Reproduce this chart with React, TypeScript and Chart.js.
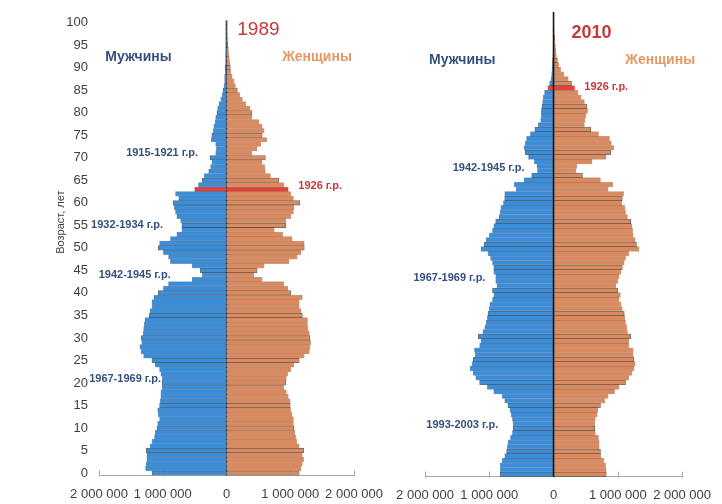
import React, { useEffect, useRef } from "react";
import { Chart, registerables } from "chart.js";

Chart.register(...registerables);

// ---------- data ----------
const AGES: string[] = [
  "0","1","2","3","4","5","6","7","8","9","10","11","12","13","14","15","16","17","18","19",
  "20","21","22","23","24","25","26","27","28","29","30","31","32","33","34","35","36","37","38","39",
  "40","41","42","43","44","45","46","47","48","49","50","51","52","53","54","55","56","57","58","59",
  "60","61","62","63","64","65","66","67","68","69","70","71","72","73","74","75","76","77","78","79",
  "80","81","82","83","84","85","86","87","88","89","90","91","92","93","94","95","96","97","98","99","100",
];

const X_TICKS = [-2000000, -1000000, 0, 1000000, 2000000];
const X_TICK_LABELS = ["2 000 000", "1 000 000", "0", "1 000 000", "2 000 000"];

// thousands of people, ages 0..100
const MEN_1989 = [
  1170,1270,1260,1250,1250,1260,1200,1170,1130,1120,
  1090,1080,1050,1070,1080,1050,1040,1030,1030,1010,
  1010,1010,1030,1050,1120,1170,1300,1340,1360,1330,
  1340,1310,1300,1290,1280,1210,1200,1170,1170,1140,
  1070,990,910,540,380,410,540,880,910,990,
  1070,1050,880,780,700,700,720,780,800,820,
  840,750,800,500,440,380,350,280,250,230,
  260,170,160,170,240,230,210,200,180,170,
  150,140,120,90,70,50,40,30,30,20,
  20,10,10,10,5,3,2,1,1,0.5,0.3,
];
const WOMEN_1989 = [
  1140,1170,1190,1210,1190,1210,1140,1100,1090,1070,
  1060,1050,1050,1030,1010,1000,1000,970,940,900,
  930,940,960,1010,1060,1140,1220,1300,1310,1320,
  1310,1300,1280,1270,1270,1190,1170,1140,1140,1190,
  1010,960,900,560,430,480,590,980,1110,1170,
  1220,1220,1030,880,750,930,930,1010,1050,1060,
  1150,1050,1010,970,900,820,690,610,600,560,
  610,400,480,540,630,560,590,560,510,400,
  400,370,300,250,210,170,140,120,90,70,
  60,50,45,35,30,20,15,10,7,4,3,
];
const MEN_2010 = [
  830,830,830,800,760,730,720,710,670,640,
  630,630,640,660,680,710,760,800,930,1030,
  1150,1210,1250,1300,1270,1250,1220,1230,1150,1130,
  1170,1100,1070,1050,1030,1020,1000,990,950,930,
  950,880,900,900,930,930,950,980,1020,1130,
  1080,1050,1000,950,930,900,850,830,820,780,
  760,760,580,610,460,340,250,260,300,390,
  440,460,440,420,360,290,240,200,190,190,
  180,170,160,140,90,60,40,30,25,20,
  15,10,8,6,5,4,3,2,1,1,0.5,
];
const WOMEN_2010 = [
  820,820,810,780,740,730,710,710,700,650,
  640,640,650,680,690,730,800,850,950,1020,
  1120,1170,1220,1250,1270,1250,1240,1240,1170,1170,
  1200,1150,1140,1120,1110,1100,1070,1050,1020,1040,
  1000,970,1000,1020,1050,1070,1100,1120,1170,1330,
  1290,1270,1240,1230,1220,1200,1150,1120,1110,1060,
  1070,1090,850,920,730,450,350,360,600,820,
  890,940,900,870,700,580,480,490,500,530,
  520,480,430,380,330,280,230,160,110,80,
  60,45,35,30,20,15,10,7,5,3,2,
];

const HIGHLIGHT_1989 = 63; // born 1926
const HIGHLIGHT_2010 = 84; // born 1926

// ---------- styling ----------
const BLUE = "#3a8dd8";
const ORANGE = "#da8a5e";
const RED = "#e2423a";
const LABEL_BLUE = "#34507f";
const LABEL_ORANGE = "#e39865";
const LABEL_RED = "#c8383a";
const AXIS_TEXT = "#404040";
const FONT = "'Liberation Sans', Arial, sans-serif";

type Note = { text: string; value: number; age: number; color: string; font: string; rotate?: boolean };

const NOTES_1989: Note[] = [
  { text: "1989", value: 500000, age: 98.4, color: "#c23a3c", font: `19px ${FONT}` },
  { text: "Мужчины", value: -1380000, age: 92.4, color: LABEL_BLUE, font: `bold 14px ${FONT}` },
  { text: "Женщины", value: 1420000, age: 92.4, color: LABEL_ORANGE, font: `bold 14px ${FONT}` },
  { text: "1915-1921 г.р.", value: -1010000, age: 71.1, color: LABEL_BLUE, font: `bold 11px ${FONT}` },
  { text: "1926 г.р.", value: 1470000, age: 63.7, color: LABEL_RED, font: `bold 11px ${FONT}` },
  { text: "1932-1934 г.р.", value: -1560000, age: 55.1, color: LABEL_BLUE, font: `bold 11px ${FONT}` },
  { text: "1942-1945 г.р.", value: -1440000, age: 44.0, color: LABEL_BLUE, font: `bold 11px ${FONT}` },
  { text: "1967-1969 г.р.", value: -1590000, age: 20.9, color: LABEL_BLUE, font: `bold 11px ${FONT}` },
  { text: "Возраст, лет", value: -2590000, age: 55.7, color: AXIS_TEXT, font: `11px ${FONT}`, rotate: true },
];
const NOTES_2010: Note[] = [
  { text: "2010", value: 590000, age: 96.0, color: "#c23a3c", font: `bold 18px ${FONT}` },
  { text: "Мужчины", value: -1420000, age: 90.1, color: LABEL_BLUE, font: `bold 14px ${FONT}` },
  { text: "Женщины", value: 1660000, age: 90.1, color: LABEL_ORANGE, font: `bold 14px ${FONT}` },
  { text: "1926 г.р.", value: 820000, age: 84.2, color: LABEL_RED, font: `bold 11px ${FONT}` },
  { text: "1942-1945 г.р.", value: -1010000, age: 66.6, color: LABEL_BLUE, font: `bold 11px ${FONT}` },
  { text: "1967-1969 г.р.", value: -1620000, age: 42.7, color: LABEL_BLUE, font: `bold 11px ${FONT}` },
  { text: "1993-2003 г.р.", value: -1420000, age: 10.75, color: LABEL_BLUE, font: `bold 11px ${FONT}` },
];

const notesPlugin = {
  id: "notes",
  afterDraw(chart: any, _args: any, opts: any) {
    const { ctx, scales } = chart;
    const x = scales.x;
    const y = scales.y;
    for (const n of (opts.items || []) as Note[]) {
      const px = x.getPixelForValue(n.value);
      const py = y.getPixelForValue(n.age);
      ctx.save();
      ctx.font = n.font;
      ctx.fillStyle = n.color;
      ctx.textAlign = "center";
      ctx.textBaseline = "middle";
      if (n.rotate) {
        ctx.translate(px, py);
        ctx.rotate(-Math.PI / 2);
        ctx.fillText(n.text, 0, 0);
      } else {
        ctx.fillText(n.text, px, py);
      }
      ctx.restore();
    }
  },
};

function drawZero(chart: any) {
  const { ctx, chartArea, scales } = chart;
  const zx = scales.x.getPixelForValue(0);
  ctx.save();
  ctx.strokeStyle = "#151515";
  ctx.lineWidth = 1.6;
  ctx.beginPath();
  ctx.moveTo(zx, chartArea.top);
  ctx.lineTo(zx, chartArea.bottom);
  ctx.stroke();
  ctx.restore();
}

const axisPlugin = {
  id: "axisMarks",
  beforeDatasetsDraw(chart: any, _a: any, opts: any) {
    const { ctx, chartArea, scales } = chart;
    ctx.save();
    ctx.strokeStyle = "#a6a6a6";
    ctx.lineWidth = 1;
    for (const v of X_TICKS) {
      const px = Math.round(scales.x.getPixelForValue(v)) + 0.5;
      ctx.beginPath();
      ctx.moveTo(px, chartArea.bottom + 1);
      ctx.lineTo(px, chartArea.bottom - 5);
      ctx.stroke();
    }
    ctx.restore();
    if (!opts.zeroOnTop) drawZero(chart);
  },
  afterDatasetsDraw(chart: any, _a: any, opts: any) {
    if (opts.zeroOnTop) drawZero(chart);
  },
};

function buildConfig(
  men: number[],
  women: number[],
  highlight: number,
  notes: Note[],
  pad: { left: number; right: number; top: number },
  yWidth: number | null,
  xHeight: number,
  zeroOnTop: boolean
): any {
  const fill = (base: string) => (c: any) => (c.dataIndex === highlight ? RED : base);
  const edge = (base: string) => (c: any) => (c.dataIndex % 5 === 0 ? "rgba(25,25,25,0.65)" : base);
  const width = (c: any) => (c.dataIndex % 5 === 0 ? 0.8 : 0.6);
  return {
    type: "bar",
    data: {
      labels: AGES,
      datasets: [
        {
          label: "Мужчины",
          data: men.map((v) => -v * 1000),
          backgroundColor: fill(BLUE),
          borderColor: edge("rgba(25,60,110,0.5)"),
          borderWidth: width,
          barPercentage: 1,
          categoryPercentage: 1,
        },
        {
          label: "Женщины",
          data: women.map((v) => v * 1000),
          backgroundColor: fill(ORANGE),
          borderColor: edge("rgba(110,55,25,0.45)"),
          borderWidth: width,
          barPercentage: 1,
          categoryPercentage: 1,
        },
      ],
    },
    options: {
      indexAxis: "y",
      responsive: false,
      animation: false,
      events: [],
      layout: { padding: { left: pad.left, right: pad.right, top: pad.top, bottom: 0 }, autoPadding: false },
      plugins: {
        legend: { display: false },
        tooltip: { enabled: false },
        notes: { items: notes },
        axisMarks: { zeroOnTop },
      },
      scales: {
        x: {
          stacked: true,
          min: -2000000,
          max: 2000000,
          afterBuildTicks: (s: any) => {
            s.ticks = X_TICKS.map((v) => ({ value: v }));
          },
          afterFit: (s: any) => {
            s.height = xHeight;
          },
          grid: { display: false, drawTicks: false },
          border: { display: true, color: "#a6a6a6", width: 1 },
          ticks: {
            padding: 11,
            color: AXIS_TEXT,
            font: { size: 13, family: FONT },
            maxRotation: 0,
            autoSkip: false,
            callback: (v: number) => X_TICK_LABELS[X_TICKS.indexOf(v)] ?? "",
          },
        },
        y: {
          stacked: true,
          reverse: true,
          display: yWidth !== null,
          afterFit: (s: any) => {
            if (yWidth !== null) s.width = yWidth;
          },
          grid: { display: false, drawTicks: false },
          border: { display: false },
          ticks: {
            autoSkip: false,
            padding: 11,
            color: AXIS_TEXT,
            font: { size: 13, family: FONT },
            callback: function (this: any, v: number) {
              const lab = this.getLabelForValue(v);
              return Number(lab) % 5 === 0 ? lab : "";
            },
          },
        },
      },
    },
    plugins: [notesPlugin, axisPlugin],
  };
}

function Pyramid(props: {
  left: number;
  width: number;
  men: number[];
  women: number[];
  highlight: number;
  notes: Note[];
  pad: { left: number; right: number; top: number };
  yWidth: number | null;
  xHeight: number;
  zeroOnTop: boolean;
}) {
  const ref = useRef<HTMLCanvasElement | null>(null);
  useEffect(() => {
    if (!ref.current) return;
    const chart = new Chart(
      ref.current,
      buildConfig(props.men, props.women, props.highlight, props.notes, props.pad, props.yWidth, props.xHeight, props.zeroOnTop)
    );
    return () => chart.destroy();
  }, []);
  return (
    <canvas
      ref={ref}
      width={props.width}
      height={504}
      style={{ position: "absolute", left: props.left, top: 0, width: props.width, height: 504 }}
    />
  );
}

export default function App() {
  return (
    <div style={{ position: "absolute", left: 0, top: 0, width: 722, height: 504, overflow: "hidden", background: "#fff" }}>
      <Pyramid
        left={0}
        width={400}
        men={MEN_1989}
        women={WOMEN_1989}
        highlight={HIGHLIGHT_1989}
        notes={NOTES_1989}
        pad={{ left: 0, right: 46, top: 20.4 }}
        yWidth={99}
        xHeight={28.7}
        zeroOnTop={false}
      />
      <Pyramid
        left={360}
        width={362}
        men={MEN_2010}
        women={WOMEN_2010}
        highlight={HIGHLIGHT_2010}
        notes={NOTES_2010}
        pad={{ left: 65, right: 27, top: 12.1 }}
        yWidth={null}
        xHeight={27.3}
        zeroOnTop={true}
      />
    </div>
  );
}
